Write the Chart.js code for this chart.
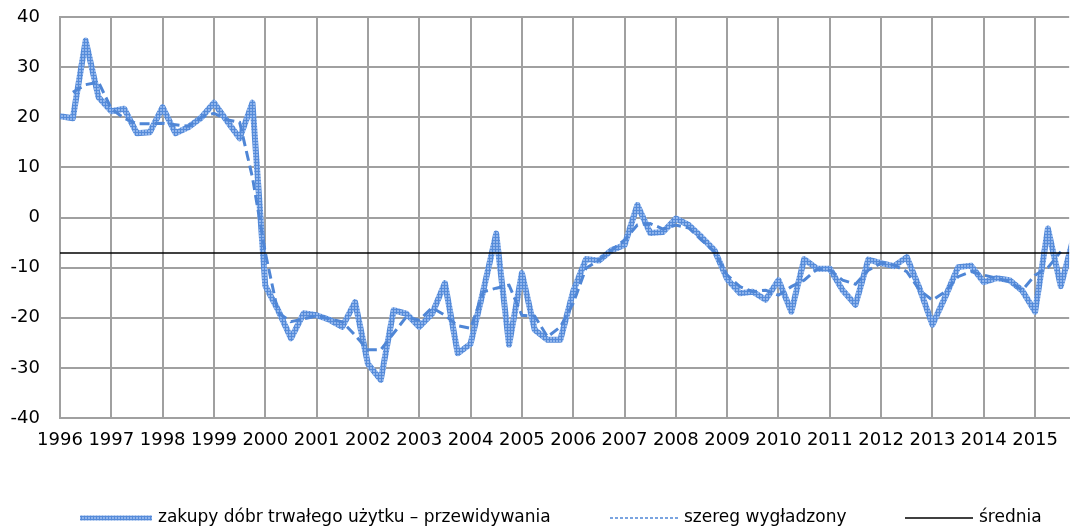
<!DOCTYPE html>
<html>
<head>
<meta charset="utf-8">
<script src="https://cdn.jsdelivr.net/npm/chart.js@4.4.1/dist/chart.umd.min.js"></script>
<style>
  html, body { margin: 0; padding: 0; background: #fff; overflow: hidden; }
</style>
</head>
<body>
<canvas id="wykres" width="1070" height="532"></canvas>
<script>
// dane kwartalne od 1996 Q1 do 2015 Q4
const rokPoczatkowy = 1996;
const lata = [1996, 1997, 1998, 1999, 2000, 2001, 2002, 2003, 2004, 2005,
              2006, 2007, 2008, 2009, 2010, 2011, 2012, 2013, 2014, 2015];

const zakupy = [
  20.2, 19.8, 35.3, 24.0,
  21.2, 21.7, 16.8, 17.0,
  22.0, 16.8, 18.0, 19.9,
  22.9, 19.3, 15.8, 22.9,
  -13.6, -18.5, -24.1, -19.1,
  -19.5, -20.4, -21.8, -16.9,
  -29.2, -32.4, -18.5, -19.2,
  -21.8, -19.2, -13.1, -27.1,
  -25.2, -14.5, -3.2, -25.4,
  -11.1, -22.4, -24.4, -24.4,
  -14.7, -8.3, -8.6, -6.5,
  -5.5, 2.5, -3.1, -2.9,
  -0.2, -1.5, -3.9, -6.5,
  -12.3, -15.1, -14.8, -16.4,
  -12.5, -18.8, -8.3, -10.2,
  -10.2, -14.5, -17.4, -8.4,
  -9.1, -9.7, -7.9, -14.2,
  -21.4, -15.8, -9.9, -9.6,
  -12.9, -12.1, -12.5, -14.6,
  -18.8, -2.2, -13.7, -4.0
];

const wygladzony = [
  null, 25.0, 26.5, 27.0,
  21.7, 19.8, 18.7, 18.7,
  18.8, 18.5, 18.2, 20.0,
  20.8, 19.5, 19.0, 8.0,
  -7.0, -19.0, -20.8, -20.2,
  -19.7, -20.2, -20.8, -23.5,
  -26.4, -26.4, -23.1, -19.8,
  -20.5, -18.0, -19.5, -21.6,
  -22.1, -14.8, -14.1, -13.5,
  -19.5, -19.7, -23.8, -21.8,
  -17.1, -10.1, -8.5, -6.5,
  -4.5, -1.5, -1.2, -2.3,
  -1.5, -2.1, -4.5, -6.8,
  -11.5, -13.8, -14.8, -14.5,
  -15.5, -13.8, -12.5, -10.3,
  -10.5, -12.5, -13.3, -10.5,
  -9.1, -9.5, -10.8, -14.5,
  -16.5, -14.8, -11.8, -10.8,
  -11.5, -12.1, -12.8, -14.5,
  -11.5, -10.0, -6.8, null
];

const srednia = -7.1;

const etykiety = ['zakupy dóbr trwałego użytku – przewidywania', 'szereg wygładzony', 'średnia'];

// kwartały jako ułamki roku
const kwartal = i => rokPoczatkowy + i / 4;
const punkty = arr => arr.map((v, i) => ({ x: kwartal(i), y: v }));

// kreskowana tekstura jak w Excelu
function kratka() {
  const c = document.createElement('canvas');
  c.width = 3; c.height = 3;
  const g = c.getContext('2d');
  g.fillStyle = '#8fb4ec';
  g.fillRect(0, 0, 3, 3);
  g.fillStyle = '#558bd9';
  g.fillRect(0, 0, 3, 1);
  g.fillRect(0, 0, 1, 3);
  return g.createPattern(c, 'repeat');
}
const wzor = kratka();

const czcionka = { family: '"DejaVu Sans", Verdana, sans-serif', size: 18 };

// legenda pod wykresem
const legendaDol = {
  id: 'legendaDol',
  afterDraw(chart) {
    const ctx = chart.ctx;
    const y = 518;
    const pozycje = [[80, 72], [610, 68], [905, 68]];
    ctx.save();
    ctx.font = '17px "DejaVu Sans", Verdana, sans-serif';
    ctx.textBaseline = 'middle';
    ctx.fillStyle = '#000';
    pozycje.forEach(([x, w], i) => {
      ctx.beginPath();
      if (i === 0) {
        ctx.strokeStyle = wzor; ctx.lineWidth = 5; ctx.setLineDash([]);
      } else if (i === 1) {
        ctx.strokeStyle = '#4f86d6'; ctx.lineWidth = 1.5; ctx.setLineDash([3, 2]);
      } else {
        ctx.strokeStyle = '#000'; ctx.lineWidth = 1.5; ctx.setLineDash([]);
      }
      ctx.moveTo(x, y);
      ctx.lineTo(x + w, y);
      ctx.stroke();
      ctx.fillText(chart.data.datasets[i].label, x + w + 6, y);
    });
    ctx.restore();
  }
};

const ctx = document.getElementById('wykres').getContext('2d');
const wykres = new Chart(ctx, {
  type: 'line',
  data: {
    datasets: [{
      label: etykiety[0],
      data: punkty(zakupy),
      borderColor: wzor,
      borderWidth: 6,
      borderJoinStyle: 'round',
      order: 2
    }, {
      label: etykiety[1],
      data: punkty(wygladzony),
      borderColor: '#4f86d6',
      borderWidth: 3,
      borderDash: [10, 5],
      order: 1
    }, {
      label: etykiety[2],
      data: [{ x: kwartal(0), y: srednia }, { x: kwartal(zakupy.length - 1), y: srednia }],
      borderColor: '#000',
      borderWidth: 1.5,
      order: 0
    }]
  },
  options: {
    responsive: false,
    animation: false,
    layout: { padding: { top: 17, bottom: 72, left: 0, right: 0 } },
    elements: { point: { radius: 0 }, line: { tension: 0 } },
    plugins: { legend: { display: false }, tooltip: { enabled: false } },
    scales: {
      x: {
        type: 'linear',
        min: 1996,
        max: 2015.664,
        afterBuildTicks: s => { s.ticks = lata.map(v => ({ value: v })); },
        afterFit: s => { s.height = 42; },
        ticks: { font: czcionka, color: '#000', padding: 12, maxRotation: 0, autoSkip: false, callback: v => String(v) },
        grid: { color: '#a0a0a0', lineWidth: 2, drawTicks: false },
        border: { color: '#a0a0a0', width: 2 }
      },
      y: {
        min: -40,
        max: 40,
        afterFit: s => { s.width = 60; s.paddingTop = 0; s.paddingBottom = 0; },
        ticks: { stepSize: 10, font: czcionka, color: '#000', padding: 20 },
        grid: { color: '#a0a0a0', lineWidth: 2, drawTicks: false },
        border: { color: '#a0a0a0', width: 2 }
      }
    }
  },
  plugins: [legendaDol]
});
</script>
</body>
</html>
